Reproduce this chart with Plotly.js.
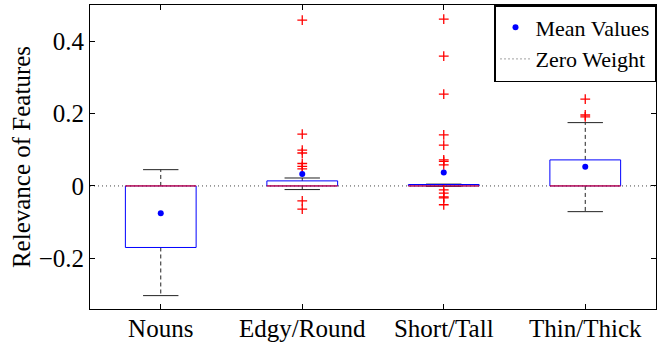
<!DOCTYPE html>
<html>
<head>
<meta charset="utf-8">
<script src="https://cdn.plot.ly/plotly-3.0.1.min.js"></script>
<style>
html,body{margin:0;padding:0;background:#fff;}
#chart{width:657px;height:345px;}
</style>
</head>
<body>
<div id="chart"></div>
<script>
// ---- data ----
const categories = ["Nouns", "Edgy/Round", "Short/Tall", "Thin/Thick"];
const q1Values     = [-0.170, 0.000, 0.000, 0.000];
const medianValues = [0.000, 0.000, 0.000, 0.000];
const q3Values     = [0.000, 0.014, 0.004, 0.072];
const lowerWhisker = [-0.303, -0.010, -0.001, -0.071];
const upperWhisker = [0.045, 0.022, 0.005, 0.175];
const meanValues   = [-0.0755, 0.033, 0.037, 0.053];
const outliersNouns = [];
const outliersEdgy  = [0.458, 0.143, 0.099, 0.091, 0.062, 0.054, 0.047, -0.041, -0.064];
const outliersShort = [0.461, 0.359, 0.254, 0.141, 0.113, 0.072, 0.068, 0.058, -0.011, -0.020, -0.030, -0.033, -0.052];
const outliersThin  = [0.240, 0.196, 0.191];
const outliers = [outliersNouns, outliersEdgy, outliersShort, outliersThin];
const zeroWeight = 0;

// ---- layout constants ----
const positions = categories.map((c, i) => i + 1);
const halfBox = 0.25, halfCap = 0.125;
const xRange = [0.5, categories.length + 0.5];

const boxX = [], boxY = [], medX = [], medY = [], whX = [], whY = [], capX = [], capY = [], outX = [], outY = [];
positions.forEach((p, i) => {
  boxX.push(p - halfBox, p + halfBox, p + halfBox, p - halfBox, p - halfBox, null);
  boxY.push(q1Values[i], q1Values[i], q3Values[i], q3Values[i], q1Values[i], null);
  medX.push(p - halfBox, p + halfBox, null);
  medY.push(medianValues[i], medianValues[i], null);
  whX.push(p, p, null, p, p, null);
  whY.push(q3Values[i], upperWhisker[i], null, q1Values[i], lowerWhisker[i], null);
  capX.push(p - halfCap, p + halfCap, null, p - halfCap, p + halfCap, null);
  capY.push(upperWhisker[i], upperWhisker[i], null, lowerWhisker[i], lowerWhisker[i], null);
  outliers[i].forEach(v => { outX.push(p); outY.push(v); });
});

const traces = [
  {x: xRange, y: [zeroWeight, zeroWeight], mode: 'lines', name: 'Zero Weight', legendrank: 2,
   line: {color: '#444', width: 1, dash: '1px,3px'}, hoverinfo: 'skip'},
  {x: whX, y: whY, mode: 'lines', showlegend: false, line: {color: '#222', width: 1, dash: '4px,3px'}},
  {x: capX, y: capY, mode: 'lines', showlegend: false, line: {color: '#222', width: 1}},
  {x: boxX, y: boxY, mode: 'lines', showlegend: false, line: {color: '#0000ff', width: 1}},
  {x: medX, y: medY, mode: 'lines', showlegend: false, line: {color: '#ff0000', width: 1}},
  {x: outX, y: outY, mode: 'markers', showlegend: false,
   marker: {symbol: 'cross-thin-open', size: 7, color: '#ff0000', line: {color: '#ff0000', width: 1.3}}},
  {x: positions, y: meanValues, mode: 'markers', name: 'Mean Values', legendrank: 1,
   marker: {symbol: 'circle', size: 6, color: '#0000ff'}}
];

const serif = 'Liberation Serif, Times New Roman, serif';
const font = {family: serif, size: 25, color: '#000'};

const layout = {
  width: 657, height: 345,
  margin: {l: 90, r: 1, t: 5, b: 36, pad: 0},
  paper_bgcolor: '#fff', plot_bgcolor: '#fff',
  font: font,
  showlegend: true,
  legend: {x: 1, xanchor: 'right', y: 1, yanchor: 'top', bgcolor: '#fff',
           bordercolor: '#000', borderwidth: 1.5, font: {family: serif, size: 22, color: '#000'},
           itemwidth: 30, tracegroupgap: 0},
  xaxis: {range: xRange, tickvals: positions, ticktext: categories, ticks: 'inside', ticklen: 5,
          tickcolor: '#000', showline: true, linecolor: '#000', linewidth: 1, mirror: 'ticks',
          showgrid: false, zeroline: false, tickfont: font, fixedrange: true, ticklabelstandoff: -3},
  yaxis: {range: [-0.34, 0.5], tick0: 0, dtick: 0.2, ticks: 'inside', ticklen: 5,
          tickcolor: '#000', showline: true, linecolor: '#000', linewidth: 1, mirror: 'ticks',
          showgrid: false, zeroline: false, tickfont: font, fixedrange: true,
          title: {text: 'Relevance of Features', font: font, standoff: 0}}
};

Plotly.newPlot('chart', traces, layout, {staticPlot: true, displayModeBar: false});
</script>
</body>
</html>
